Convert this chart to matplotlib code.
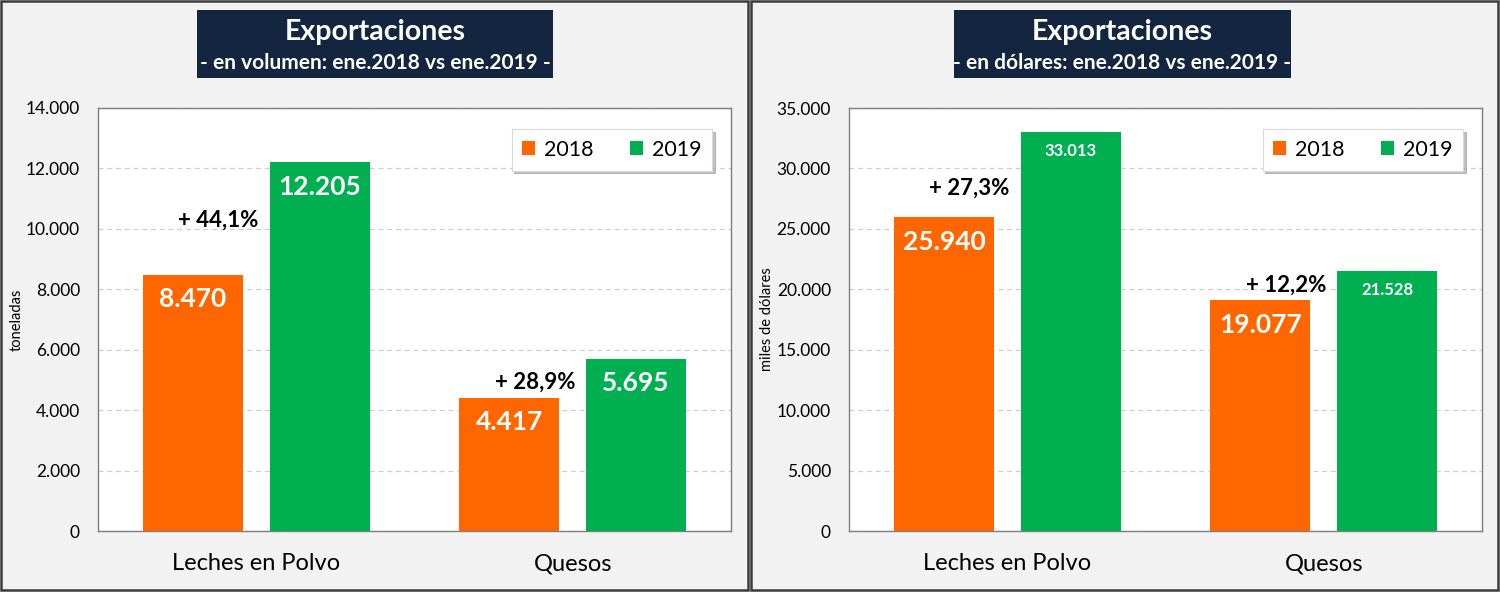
import matplotlib
matplotlib.use("Agg")
import matplotlib.pyplot as plt
import numpy as np
from matplotlib.patches import Rectangle
from matplotlib.ticker import FuncFormatter

plt.rcParams['font.family'] = ['Lato', 'DejaVu Sans']

categories = ["Leches en Polvo", "Quesos"]
series_names = ["2018", "2019"]

vol_2018 = [8470, 4417]
vol_2019 = [12205, 5695]
vol_pct = ["+ 44,1%", "+ 28,9%"]

usd_2018 = [25940, 19077]
usd_2019 = [33013, 21528]
usd_pct = ["+ 27,3%", "+ 12,2%"]

C18 = "#FF6600"
C19 = "#00B050"
NAVY = "#13253F"
PANEL = "#F2F2F2"

W, H = 1500, 592
fig = plt.figure(figsize=(15, 5.92), dpi=100)
fig.patch.set_facecolor("white")

def px_rect(x0, y0, x1, y1):
    return (x0 / W, 1 - y1 / H, (x1 - x0) / W, (y1 - y0) / H)

# panels
for x0, x1 in [(1, 748), (751, 1498)]:
    l, b, w, h = px_rect(x0, 1, x1, 590)
    fig.patches.append(Rectangle((l, b), w, h, transform=fig.transFigure,
                                 facecolor=PANEL, edgecolor="#3a3a3a", lw=1.8, zorder=-10))

def thousands(v, pos):
    return f"{int(v):,}".replace(",", ".")

def draw_panel(offset, v18, v19, pcts, ymax, ystep, ylabel, subtitle, small19, pct_dy):
    l, b, w, h = px_rect(98 + offset, 108, 731 + offset, 531)
    ax = fig.add_axes([l, b, w, h])
    ax.set_facecolor("white")
    x = np.arange(len(categories))
    bw = 0.316
    b18 = ax.bar(x - 0.2, v18, bw, color=C18, label=series_names[0], zorder=3)
    b19 = ax.bar(x + 0.2, v19, bw, color=C19, label=series_names[1], zorder=3)
    ax.set_xlim(-0.5, 1.5)
    ax.set_ylim(0, ymax)
    ax.set_yticks(np.arange(0, ymax + 1, ystep))
    ax.yaxis.set_major_formatter(FuncFormatter(thousands))
    ax.set_xticks(x)
    ax.set_xticklabels(categories, fontsize=17)
    ax.tick_params(axis="x", length=0, pad=16)
    ax.tick_params(axis="y", length=0, pad=13, labelsize=12.5)
    ax.grid(axis="y", color="#D0D0D0", linestyle=(0, (4, 3)), lw=0.9, zorder=0)
    for s in ax.spines.values():
        s.set_color("#7F7F7F")
        s.set_linewidth(1.0)
    ax.set_ylabel(ylabel, fontsize=10.5)
    ax.yaxis.set_label_coords(-0.118, 0.5)
    # data labels
    for i, r in enumerate(b18):
        ax.annotate(thousands(v18[i], None), (r.get_x() + r.get_width() / 2, v18[i]),
                    xytext=(0, -17.5), textcoords="offset points", ha="center", va="center",
                    color="white", fontsize=19, fontweight="bold", zorder=4)
    for i, r in enumerate(b19):
        fs = 12 if small19 else 19
        dy = -14 if small19 else -17.5
        ax.annotate(thousands(v19[i], None), (r.get_x() + r.get_width() / 2, v19[i]),
                    xytext=(0, dy), textcoords="offset points", ha="center", va="center",
                    color="white", fontsize=fs, fontweight="bold", zorder=4)
    for i, t in enumerate(pcts):
        ymid = (v18[i] + v19[i]) / 2
        ax.annotate(t, (x[i] - 0.12, ymid), xytext=(0, pct_dy[i]), textcoords="offset points",
                    ha="center", va="center", fontsize=16, fontweight="bold", color="black", zorder=5)
    leg = ax.legend(loc="upper right", bbox_to_anchor=(0.970, 0.950), borderaxespad=0,
                    ncol=2, fontsize=15.5,
                    frameon=True, fancybox=False, shadow={'color': '#999999', 'alpha': 0.6},
                    handlelength=0.6, handleheight=0.6, handletextpad=0.4, columnspacing=1.7,
                    borderpad=0.5, edgecolor="#D9D9D9")
    leg.get_frame().set_linewidth(0.8)
    # title box
    if offset == 0:
        tx0, tx1 = 197, 553
    else:
        tx0, tx1 = 954, 1291
    l2, b2, w2, h2 = px_rect(tx0, 10, tx1, 78)
    fig.patches.append(Rectangle((l2, b2), w2, h2, transform=fig.transFigure,
                                 facecolor=NAVY, edgecolor="none", zorder=1))
    cx = (tx0 + tx1) / 2 / W
    fig.text(cx, 1 - 32 / H, "Exportaciones", ha="center", va="center", color="white",
             fontsize=20.5, fontweight="bold", zorder=2)
    fig.text(cx, 1 - 63 / H, subtitle, ha="center", va="center", color="white",
             fontsize=15, fontweight="bold", zorder=2)
    return ax

draw_panel(0, vol_2018, vol_2019, vol_pct, 14000, 2000, "toneladas",
           "- en volumen: ene.2018 vs ene.2019 -", False, [-1, -3])
draw_panel(751, usd_2018, usd_2019, usd_pct, 35000, 5000, "miles de dólares",
           "- en dólares: ene.2018 vs ene.2019 -", True, [-9.5, 0])

fig.savefig("out.png", dpi=100, facecolor=fig.get_facecolor())
